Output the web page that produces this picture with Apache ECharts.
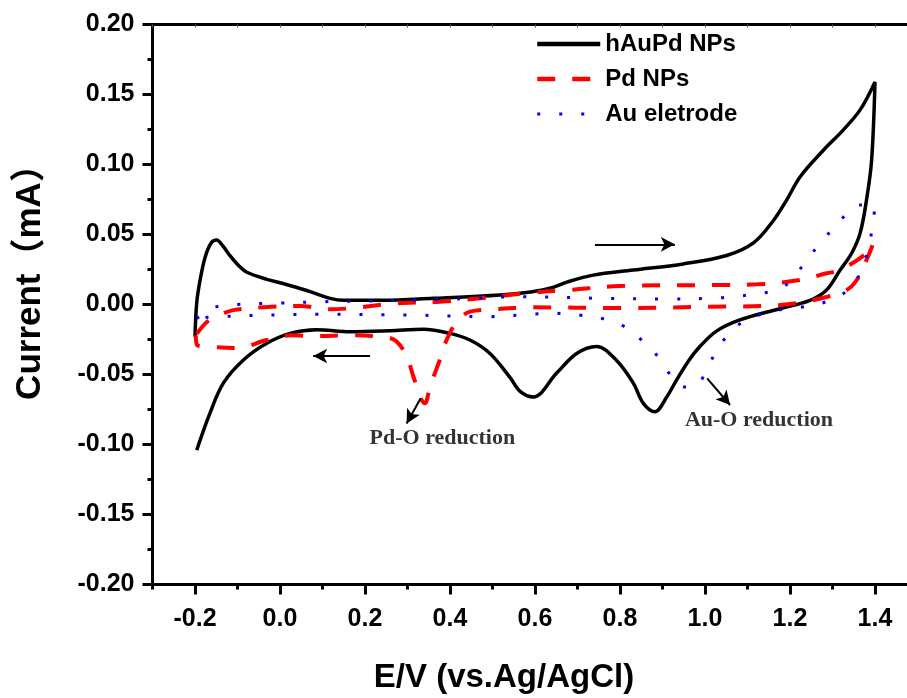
<!DOCTYPE html>
<html lang="en">
<head>
    <meta charset="UTF-8">
    <title>CV</title>
    <script src="https://cdn.jsdelivr.net/npm/echarts@6/dist/echarts.min.js"></script>
    <style>
        html, body { margin: 0; padding: 0; background: #fff; }
        #main { width: 907px; height: 698px; }
    </style>
</head>
<body>
<div id="main"></div>
<script>
// 坐标轴刻度
var xMajorTicks = [-0.2, 0.0, 0.2, 0.4, 0.6, 0.8, 1.0, 1.2, 1.4];
var xMinorTicks = [-0.3, -0.1, 0.1, 0.3, 0.5, 0.7, 0.9, 1.1, 1.3, 1.5];
var xAllTicks = [-0.3, -0.2, -0.1, 0.0, 0.1, 0.2, 0.3, 0.4, 0.5, 0.6, 0.7, 0.8, 0.9, 1.0, 1.1, 1.2, 1.3, 1.4, 1.5];

var seriesNames = ['hAuPd NPs', 'Pd NPs', 'Au eletrode'];

// hAuPd NPs 循环伏安曲线 [E, I]
var hAuPdData = [
    [-0.2, -0.023], [-0.196, 0.001], [-0.188, 0.0175], [-0.176, 0.034], [-0.162, 0.044], [-0.149, 0.046],
    [-0.135, 0.042], [-0.118, 0.035], [-0.098, 0.028], [-0.078, 0.023], [-0.031, 0.018], [0.007, 0.015],
    [0.063, 0.010], [0.118, 0.0044], [0.149, 0.003], [0.243, 0.003], [0.36, 0.0044], [0.518, 0.0068],
    [0.59, 0.009], [0.635, 0.0116], [0.675, 0.016], [0.737, 0.021], [0.831, 0.0246], [0.949, 0.029],
    [1.051, 0.035], [1.114, 0.044], [1.161, 0.060], [1.192, 0.0746], [1.224, 0.0913], [1.278, 0.110],
    [1.325, 0.1246], [1.365, 0.139], [1.4, 0.159],
    [1.392, 0.103], [1.38, 0.0746], [1.365, 0.051], [1.345, 0.0366], [1.318, 0.0246], [1.286, 0.0104],
    [1.247, 0.003], [1.176, -0.003], [1.082, -0.011], [1.027, -0.019], [0.988, -0.030], [0.962, -0.040],
    [0.933, -0.054], [0.91, -0.066], [0.882, -0.0766], [0.855, -0.0706], [0.831, -0.056], [0.792, -0.040],
    [0.745, -0.030], [0.698, -0.035], [0.651, -0.049], [0.596, -0.066], [0.565, -0.062], [0.541, -0.052],
    [0.494, -0.035], [0.447, -0.0254], [0.4, -0.0206], [0.337, -0.0177], [0.259, -0.0187], [0.165, -0.0194],
    [0.086, -0.018], [0.024, -0.0206], [-0.031, -0.0277], [-0.086, -0.0396], [-0.133, -0.056],
    [-0.165, -0.0777], [-0.196, -0.104]
];

// Pd NPs
var pdData = [
    [-0.196, -0.021], [-0.17, -0.012], [-0.141, -0.0075], [-0.110, -0.004], [-0.039, -0.002], [0.047, -0.001],
    [0.118, -0.0034], [0.275, 0.0009], [0.376, 0.002], [0.47, 0.0044], [0.588, 0.0084], [0.682, 0.0104],
    [0.8, 0.0132], [1.02, 0.0139], [1.122, 0.0144], [1.224, 0.0175], [1.286, 0.0223], [1.318, 0.0246],
    [1.38, 0.0366], [1.396, 0.0437],
    [1.38, 0.0318], [1.357, 0.0175], [1.333, 0.0104], [1.263, 0.0037], [1.176, -0.0004], [1.012, -0.0016],
    [0.8, -0.0025], [0.588, -0.002], [0.51, -0.0034], [0.447, -0.0051], [0.416, -0.0123], [0.392, -0.0254],
    [0.376, -0.0396], [0.353, -0.0587], [0.341, -0.0706], [0.333, -0.068], [0.314, -0.0516], [0.298, -0.037],
    [0.275, -0.0266], [0.251, -0.0235], [0.165, -0.022], [0.086, -0.0225], [0.024, -0.022], [-0.031, -0.0254],
    [-0.102, -0.031], [-0.173, -0.030], [-0.195, -0.029], [-0.198, -0.022]
];

// Au eletrode
var auData = [
    [-0.196, -0.01], [-0.153, -0.002], [-0.1, 0.0], [0.0, 0.001], [0.1, 0.002], [0.2, 0.0025], [0.3, 0.003],
    [0.459, 0.0044], [0.557, 0.0056], [0.76, 0.0044], [0.91, 0.004], [1.016, 0.0044], [1.067, 0.0056],
    [1.118, 0.0075], [1.169, 0.0104], [1.204, 0.0175], [1.239, 0.0318], [1.278, 0.046], [1.318, 0.060],
    [1.365, 0.071], [1.4, 0.0706],
    [1.394, 0.0556], [1.384, 0.0394], [1.368, 0.024], [1.337, 0.0104], [1.285, 0.002], [1.233, -0.0016],
    [1.183, -0.0034], [1.131, -0.007], [1.081, -0.014], [1.038, -0.0277], [1.01, -0.0425], [0.98, -0.058],
    [0.955, -0.059], [0.929, -0.055], [0.898, -0.0404], [0.855, -0.0266], [0.808, -0.0154], [0.757, -0.0099],
    [0.702, -0.0075], [0.647, -0.0063], [0.596, -0.0068], [0.494, -0.0087], [0.3, -0.0075], [0.1, -0.007],
    [-0.153, -0.0087], [-0.196, -0.01]
];

// 箭头 [起点, 终点]
var arrows = [
    [[0.741, 0.043], [0.929, 0.043]],
    [[0.212, -0.0368], [0.078, -0.0368]],
    [[0.331, -0.067], [0.298, -0.085]],
    [[1.005, -0.0527], [1.059, -0.0718]]
];

// 注释文字
var notes = [
    [0.382, -0.0956, 'Pd-O reduction'],
    [1.127, -0.0825, 'Au-O reduction']
];

var sansFont = '"Liberation Sans", Arial, Helvetica, "Noto Sans CJK SC", sans-serif';
var serifFont = '"Liberation Serif", "Times New Roman", serif';

var myChart = echarts.init(document.getElementById('main'), null, {renderer: 'canvas'});

var lineColors = ['#000', '#ff0000', '#0000ff'];
var legendWidths = [4.5, 4.5, 3];

var option = {
    backgroundColor: '#fff',
    animation: false,
    grid: {
        left: 152.5,
        top: 24.5,
        right: -10.5,
        bottom: 113.5,
        containLabel: false,
        outerBoundsMode: 'none'
    },
    legend: {
        orient: 'vertical',
        left: 530,
        top: 27,
        itemWidth: 63,
        itemHeight: 14,
        itemGap: 11,
        data: seriesNames.map(function (n, i) {
            return {name: n, lineStyle: {width: legendWidths[i]}};
        }),
        itemStyle: {opacity: 0},
        textStyle: {
            fontFamily: sansFont,
            fontWeight: 'bold',
            fontSize: 24,
            color: '#000'
        }
    },
    xAxis: [
        {
            type: 'value',
            position: 'bottom',
            min: -0.3,
            max: 1.5,
            name: 'E/V (vs.Ag/AgCl)',
            nameLocation: 'middle',
            nameGap: 77,
            nameTextStyle: {
                fontFamily: sansFont,
                fontWeight: 'bold',
                fontSize: 33,
                color: '#000',
                padding: [0, 62, 0, 0]
            },
            axisLine: {onZero: false, lineStyle: {color: '#000', width: 3}},
            axisTick: {inside: false, length: 10, lineStyle: {width: 3, color: '#000'}, customValues: xMajorTicks},
            axisLabel: {
                customValues: xMajorTicks,
                margin: 22,
                fontFamily: sansFont,
                fontWeight: 'bold',
                fontSize: 25,
                color: '#000',
                formatter: function (v) { return v.toFixed(1); }
            },
            splitLine: {show: false}
        },
        {
            type: 'value',
            position: 'bottom',
            min: -0.3,
            max: 1.5,
            axisLine: {show: false, onZero: false},
            axisTick: {inside: false, length: 5, lineStyle: {width: 3, color: '#000'}, customValues: xMinorTicks},
            axisLabel: {show: false},
            splitLine: {show: false}
        },
        {
            type: 'value',
            position: 'top',
            min: -0.3,
            max: 1.5,
            axisLine: {onZero: false, lineStyle: {color: '#000', width: 3}},
            axisTick: {inside: true, length: 3, lineStyle: {width: 1, color: '#555'}, customValues: xAllTicks},
            axisLabel: {show: false},
            splitLine: {show: false}
        }
    ],
    yAxis: {
        type: 'value',
        min: -0.2,
        max: 0.2,
        interval: 0.05,
        name: 'Current（mA）',
        nameLocation: 'middle',
        nameGap: 105,
        nameTextStyle: {
            fontFamily: sansFont,
            fontWeight: 'bold',
            fontSize: 35,
            color: '#000',
            padding: [0, 0, 0, 62]
        },
        axisLine: {onZero: false, lineStyle: {color: '#000', width: 3}},
        axisTick: {inside: false, length: 10, lineStyle: {width: 3, color: '#000'}},
        minorTick: {show: true, splitNumber: 2, length: 5, lineStyle: {width: 3, color: '#000'}},
        axisLabel: {
            margin: 18,
            fontFamily: sansFont,
            fontWeight: 'bold',
            fontSize: 25,
            color: '#000',
            formatter: function (v) { return v.toFixed(2); }
        },
        splitLine: {show: false}
    },
    series: [
        {
            name: seriesNames[0],
            type: 'line',
            data: hAuPdData,
            smooth: 0.35,
            showSymbol: false,
            symbol: 'none',
            color: lineColors[0],
            lineStyle: {color: lineColors[0], width: 3.5},
            markLine: {
                silent: true,
                symbol: ['none', 'arrow'],
                symbolSize: [11, 14],
                label: {show: false},
                lineStyle: {color: '#000', width: 2, type: 'solid'},
                data: arrows.map(function (a) {
                    return [{coord: a[0]}, {coord: a[1]}];
                })
            },
            z: 3
        },
        {
            name: seriesNames[1],
            type: 'line',
            data: pdData,
            smooth: 0.35,
            showSymbol: false,
            symbol: 'none',
            color: lineColors[1],
            lineStyle: {color: lineColors[1], width: 4, type: [18, 17]},
            z: 4
        },
        {
            name: seriesNames[2],
            type: 'line',
            data: auData,
            smooth: 0.35,
            showSymbol: false,
            symbol: 'none',
            color: lineColors[2],
            lineStyle: {color: lineColors[2], width: 3, type: [3, 19]},
            z: 5
        },
        {
            name: 'notes',
            type: 'scatter',
            data: notes,
            symbolSize: 0,
            silent: true,
            label: {
                show: true,
                position: 'inside',
                formatter: function (p) { return p.value[2]; },
                fontFamily: serifFont,
                fontWeight: 'bold',
                fontSize: 22,
                color: '#000'
            }
        }
    ]
};

myChart.setOption(option);
</script>
</body>
</html>
